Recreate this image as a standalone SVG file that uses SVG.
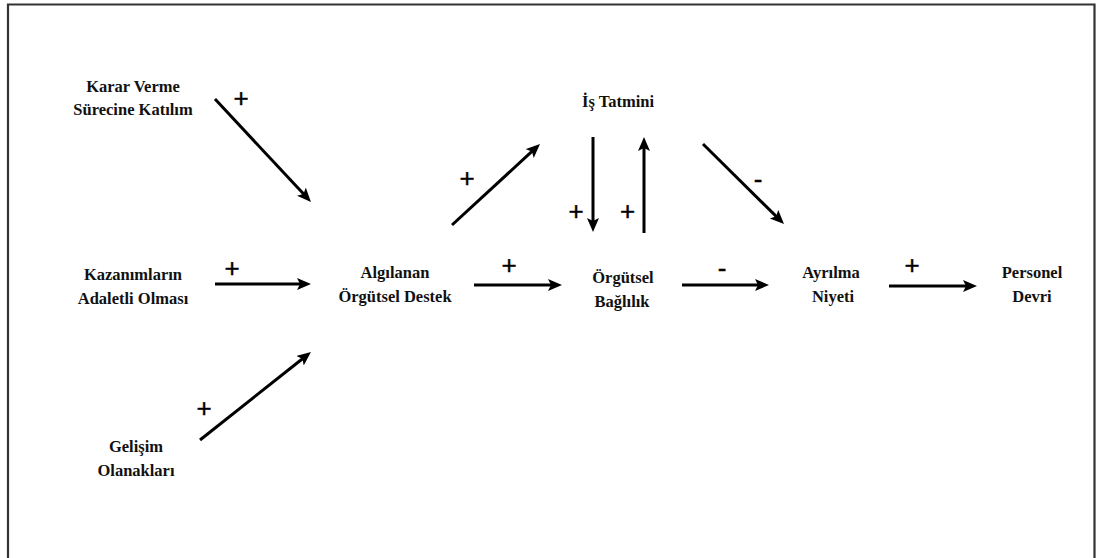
<svg xmlns="http://www.w3.org/2000/svg" width="1097" height="558" viewBox="0 0 1097 558">
  <style>
    .node { font-family: "Liberation Serif", "Times New Roman", serif; font-weight: bold; font-size: 16.5px; fill: #111; text-anchor: middle; }
    .sign { font-family: "Liberation Sans", Arial, sans-serif; font-size: 26px; fill: #000; stroke: #000; stroke-width: 0.4; text-anchor: middle; }
    .link { stroke: #000; stroke-width: 3; fill: none; marker-end: url(#head); }
  </style>
  <defs>
    <marker id="head" markerUnits="userSpaceOnUse" markerWidth="16" markerHeight="14" refX="6" refY="6" orient="auto">
      <path d="M0,0 L14,6 L0,12 L3,6 Z" fill="#000"/>
    </marker>
  </defs>

  <rect x="0" y="0" width="1097" height="558" fill="#fff"/>
  <!-- outer frame, open at the bottom -->
  <path d="M8,560 L8,4.5 L1094.5,4.5 L1094.5,560" fill="none" stroke="#333" stroke-width="2.2"/>

  <g id="karar-verme">
    <text class="node" x="133" y="92">Karar Verme</text>
    <text class="node" x="133" y="115">Sürecine Katılım</text>
  </g>
  <g id="kazanimlar">
    <text class="node" x="133" y="280">Kazanımların</text>
    <text class="node" x="133" y="304">Adaletli Olması</text>
  </g>
  <g id="gelisim">
    <text class="node" x="136" y="452">Gelişim</text>
    <text class="node" x="136" y="476">Olanakları</text>
  </g>
  <g id="algilanan-destek">
    <text class="node" x="395" y="278">Algılanan</text>
    <text class="node" x="395" y="302">Örgütsel Destek</text>
  </g>
  <g id="is-tatmini">
    <text class="node" x="618" y="107">İş Tatmini</text>
  </g>
  <g id="orgutsel-baglilik">
    <text class="node" x="623" y="283">Örgütsel</text>
    <text class="node" x="622" y="307">Bağlılık</text>
  </g>
  <g id="ayrilma-niyeti">
    <text class="node" x="831" y="278">Ayrılma</text>
    <text class="node" x="833" y="302">Niyeti</text>
  </g>
  <g id="personel-devri">
    <text class="node" x="1032" y="278">Personel</text>
    <text class="node" x="1032" y="302">Devri</text>
  </g>

  <g id="connectors">
    <line class="link" x1="215" y1="99" x2="305.5" y2="196.1"/>
    <line class="link" x1="215" y1="284" x2="303" y2="284"/>
    <line class="link" x1="200" y1="440" x2="304.7" y2="357"/>
    <line class="link" x1="452" y1="225" x2="534.1" y2="149.4"/>
    <line class="link" x1="593" y1="137" x2="593" y2="224"/>
    <line class="link" x1="644" y1="233" x2="644" y2="145"/>
    <line class="link" x1="703" y1="144" x2="778.3" y2="218.4"/>
    <line class="link" x1="474" y1="285" x2="554" y2="285"/>
    <line class="link" x1="682" y1="285" x2="761" y2="285"/>
    <line class="link" x1="889" y1="286" x2="969" y2="286"/>

    <text class="sign" x="241" y="107">+</text>
    <text class="sign" x="232" y="277">+</text>
    <text class="sign" x="204" y="417">+</text>
    <text class="sign" x="467" y="187">+</text>
    <text class="sign" x="576" y="220">+</text>
    <text class="sign" x="627.5" y="220">+</text>
    <text class="sign" x="758" y="188">-</text>
    <text class="sign" x="509" y="274">+</text>
    <text class="sign" x="722" y="277">-</text>
    <text class="sign" x="912" y="274">+</text>
  </g>
</svg>
